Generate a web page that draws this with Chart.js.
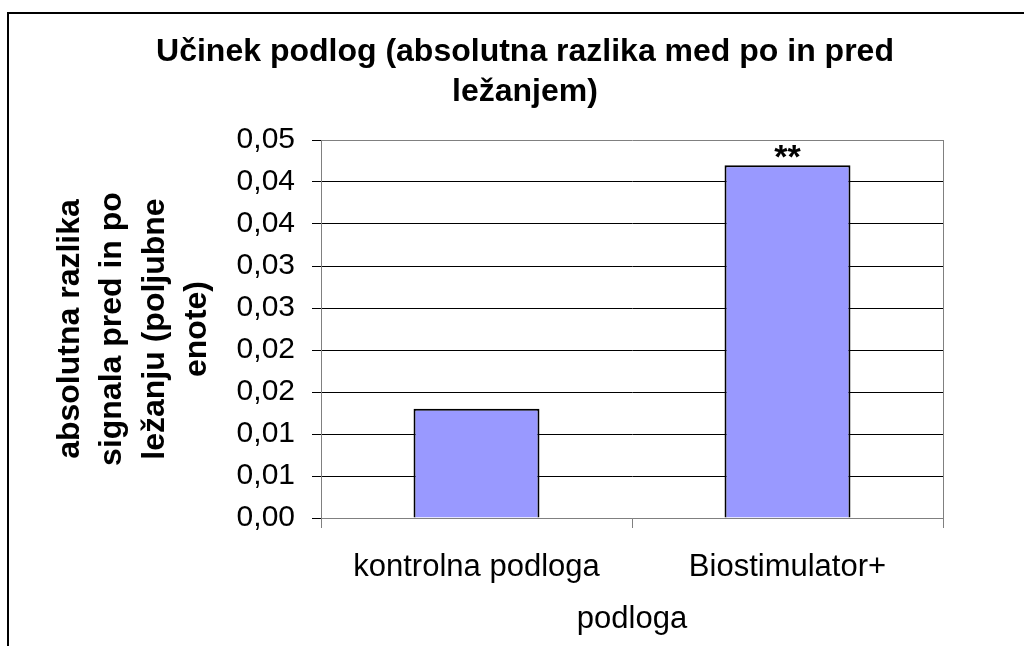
<!DOCTYPE html>
<html>
<head>
<meta charset="utf-8">
<script src="https://cdn.jsdelivr.net/npm/chart.js@4.4.1/dist/chart.umd.min.js"></script>
<style>
body{margin:0;background:#fff;overflow:hidden}
#frame{position:absolute;left:7px;top:12px;width:1200px;height:800px;border:2px solid #000}
#wrap{position:absolute;left:0;top:0;width:1024px;height:646px}
</style>
</head>
<body>
<div id="frame"></div>
<div id="wrap"><canvas id="chart" width="1024" height="646"></canvas></div>
<script>
const categories = ["kontrolna podloga", "Biostimulator+"]
const values = [0.013, 0.042]
const marks = ["", "**"]
const yTickLabels = ["0,00","0,01","0,01","0,02","0,02","0,03","0,03","0,04","0,04","0,05"]
const titleLines = ["Učinek podlog (absolutna razlika med po in pred", "ležanjem)"]
const yTitleLines = ["absolutna razlika", "signala pred in po", "ležanju (poljubne", "enote)"]
const xTitle = "podloga"

const FONT = "'Liberation Sans', Arial, sans-serif"

/* significance marks above the bars */
const marksPlugin = {
  id: "marks",
  afterDatasetsDraw(chart){
    const {ctx} = chart
    const meta = chart.getDatasetMeta(0)
    ctx.save()
    ctx.fillStyle = "#000"
    ctx.font = "bold 34px " + FONT
    ctx.textAlign = "center"
    ctx.textBaseline = "alphabetic"
    meta.data.forEach((bar, i) => {
      if (marks[i]) ctx.fillText(marks[i], bar.x, bar.y + 3)
    })
    ctx.restore()
  }
}

new Chart(document.getElementById("chart"), {
  type: "bar",
  data: {
    labels: categories,
    datasets: [{
      data: values,
      backgroundColor: "#9999ff",
      borderColor: "#000",
      borderWidth: 2,
      barPercentage: 0.405,
      categoryPercentage: 1
    }]
  },
  options: {
    responsive: false,
    animation: false,
    events: [],
    layout: { padding: { left: 26, top: 0, right: 0, bottom: 0 } },
    plugins: {
      legend: { display: false },
      tooltip: { enabled: false },
      title: {
        display: true,
        text: titleLines,
        color: "#000",
        font: { family: FONT, size: 32, weight: "bold", lineHeight: "40px" },
        padding: { top: 32, bottom: 28 }
      }
    },
    scales: {
      x: {
        afterFit(scale){ scale.height = 128 },
        grid: { drawOnChartArea: false, drawTicks: true, tickLength: 10, tickColor: "#808080", offset: true },
        border: { color: "#808080", width: 1 },
        ticks: { color: "#000", padding: 24, font: { family: FONT, size: 31, lineHeight: "30px" } },
        title: {
          display: true, text: xTitle, color: "#000",
          font: { family: FONT, size: 31, lineHeight: "30px" },
          padding: { top: 0, bottom: 12 }
        }
      },
      y: {
        min: 0,
        max: 0.045,
        afterFit(scale){ scale.width = 295 },
        grid: {
          color: c => (c.tick && (c.tick.value >= 0.0449 || c.tick.value === 0)) ? "#808080" : "#000",
          tickColor: "#000",
          tickLength: 9,
          lineWidth: 1
        },
        border: { color: "#808080", width: 1 },
        ticks: {
          stepSize: 0.005,
          color: "#000",
          padding: 17,
          font: { family: FONT, size: 30 },
          callback: (v, i) => yTickLabels[i]
        },
        title: {
          display: true, text: yTitleLines, color: "#000",
          font: { family: FONT, size: 32, weight: "bold", lineHeight: "42.5px" },
          padding: { top: 22.75, bottom: 0 }
        }
      },
      y2: {
        position: "right",
        afterFit(scale){ scale.width = 81 },
        grid: { drawOnChartArea: false, drawTicks: false },
        border: { color: "#808080", width: 1 },
        ticks: { display: false }
      }
    }
  },
  plugins: [marksPlugin]
})
</script>
</body>
</html>
